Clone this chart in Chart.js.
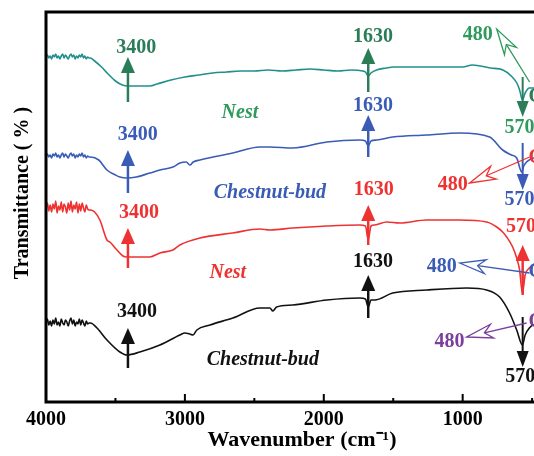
<!DOCTYPE html>
<html><head><meta charset="utf-8">
<script src="https://cdn.jsdelivr.net/npm/chart.js@4"></script>
<style>
html,body{margin:0;padding:0;background:#fff;overflow:hidden;width:534px;height:456px}
#wrap{width:580px;height:456px;position:relative}
</style></head>
<body><div id="wrap"><canvas id="c"></canvas></div>
<script>
// ---- Data (wavenumber in cm^-1, transmittance in offset arbitrary units) ----
const noiseWn = [4000,3990,3980,3970,3960,3950,3940,3930,3920,3910,3900,3890,3880,3870,3860,3850,
  3840,3830,3820,3810,3800,3790,3780,3770,3760,3750,3740,3730,3720,3710,3700,3690];

const nestTopWn = noiseWn.concat([3680,
  3650,3600,3560,3500,3450,3410,3300,3250,3200,3100,3000,2900,2800,2700,2600,2500,2400,2300,2200,2100,
  2000,1900,1800,1720,1700,1680,1660,1620,1550,1500,1400,1200,1000,930,800,710,650,610,590,570,550,520,490,450,400]);
const nestTopT = [345,347,344,346,343,347,345,348,344,346,343,346,348,344,347,345,
  343,346,348,345,347,343,346,344,347,345,348,344,346,343,345,344, 344,
  341,335,329,321,317,316,316,316,318,322,325,327,329,330,331,331,332,331,332,333,
  332,331,332,331,330,326,329,332,334,335,335,335,335,337,334,332,326,319,312,302,309,314,314,314,314];

const budTopWn = noiseWn.concat([3680,
  3620,3561,3500,3468,3417,3350,3252,3180,3086,3036,2990,2964,2940,2892,2655,2460,2388,2223,1978,1741,
  1700,1680,1660,1619,1504,1259,1022,806,712,650,611,575,560,540,520,490,450,400]);
const budTopT = [246,248,245,247,244,248,246,249,245,247,244,247,249,245,248,246,
  244,247,249,246,248,244,247,245,248,246,249,245,247,244,246,245, 245,
  242,232,227,225,224,225,229,232,235,239,240,237,240,242,249,255,255,254,260,262,
  261,256,261,262,265,267,269,265,252,247,244,230,236,240,242,244,244,244];

const nestLowWn = noiseWn.concat([3680,
  3650,3612,3561,3540,3489,3446,3417,3252,3180,3086,3036,2892,2655,2460,2388,2223,1978,1741,1700,1680,
  1660,1633,1547,1453,1259,1022,827,755,712,683,640,611,590,570,550,520,490,400]);
const nestLowT = [194,199,191,197,190,198,193,201,189,196,192,200,190,198,195,189,
  199,192,201,190,197,193,200,189,198,191,199,194,190,197,193,192, 192,
  190,182,162,160,152,146,145,145,149,152,157,164,169,173,172,174,176,177,176,162,
  176,177,180,179,182,182,180,175,170,165,155,144,132,109,127,134,137,137];

const budLowWn = noiseWn.concat([3680,
  3633,3561,3468,3417,3324,3180,3036,3000,2964,2942,2914,2820,2655,2460,2388,2367,2340,2223,1978,1741,
  1700,1680,1660,1633,1504,1259,971,827,734,662,611,570,550,520,490,400]);
const budLowT = [79,83,77,81,76,82,78,84,77,80,76,83,79,77,82,80,
  76,81,84,78,82,76,80,78,83,77,82,79,76,81,78,79, 79,
  74,62,50,47,50,57,67,69,68,67,72,77,84,94,94,91,95,97,102,104,
  103,95,102,102,109,112,114,112,105,89,72,57,67,74,77,77];

const xTickValues = [4000,3000,2000,1000];

// ---- Styles ----
const TEAL='#21908c', GREEN='#2b7d58', LGREEN='#2f9a5c', BLUE='#3a5cb6', RED='#ee3232', BLACK='#111111', PURPLE='#7a3f9c';
const SERIF="'Liberation Serif','Times New Roman',serif";

function pts(w,t){return w.map((v,i)=>({x:v,y:t[i]}));}

// ---- Annotations (data coordinates) ----
const upArrows = [
  {x:3410,tip:345,tail:300,c:GREEN},{x:3410,tip:252,tail:209,c:BLUE},{x:3410,tip:174,tail:134,c:RED},{x:3410,tip:74,tail:34,c:BLACK},
  {x:1680,tip:354,tail:310,c:GREEN},{x:1680,tip:287,tail:245,c:BLUE},{x:1680,tip:197,tail:157,c:RED},{x:1680,tip:127,tail:84,c:BLACK},
  {x:568,tip:157,tail:107,c:RED}
];
const downArrows = [
  {x:568,tip:285,tail:325,c:GREEN},{x:568,tip:212,tail:259,c:BLUE},{x:568,tip:35,tail:85,c:BLACK}
];
const openArrows = [
  {fx:518,fy:320,tx:755,ty:373,c:LGREEN},
  {fx:518,fy:245,tx:950,ty:219,c:RED},
  {fx:518,fy:129,tx:1022,ty:139,c:BLUE},
  {fx:540,fy:79,tx:971,ty:65,c:PURPLE}
];
const labels = [
  {t:'3400',x:3350,y:354,c:GREEN},{t:'3400',x:3340,y:267,c:BLUE},{t:'3400',x:3330,y:189,c:RED},{t:'3400',x:3345,y:90,c:BLACK},
  {t:'1630',x:1645,y:365,c:GREEN},{t:'1630',x:1645,y:296,c:BLUE},{t:'1630',x:1640,y:212,c:RED},{t:'1630',x:1645,y:140,c:BLACK},
  {t:'480',x:892,y:367,c:LGREEN},{t:'480',x:1072,y:217,c:RED},{t:'480',x:1151,y:135,c:BLUE},{t:'480',x:1094,y:60,c:PURPLE},
  {t:'570',x:590,y:274,c:LGREEN},{t:'570',x:590,y:202,c:BLUE},{t:'570',x:580,y:175,c:RED},{t:'570',x:585,y:25,c:BLACK},
  {t:'O',x:470,y:305,c:GREEN},{t:'O',x:470,y:244,c:RED},{t:'O',x:470,y:130,c:BLUE},{t:'O',x:470,y:80,c:PURPLE},
  {t:'Nest',x:2604,y:289,c:LGREEN,it:true},{t:'Chestnut-bud',x:2388,y:209,c:BLUE,it:true},
  {t:'Nest',x:2691,y:129,c:RED,it:true},{t:'Chestnut-bud',x:2439,y:42,c:BLACK,it:true}
];

const deco = {
  id:'deco',
  afterDatasetsDraw(chart){
    const {ctx, chartArea:a, scales:{x,y}} = chart;
    ctx.save();
    ctx.strokeStyle='#000'; ctx.lineWidth=3;
    ctx.beginPath();
    ctx.moveTo(a.left,a.bottom); ctx.lineTo(a.left,a.top); ctx.lineTo(a.right,a.top); ctx.lineTo(a.right,a.bottom); ctx.closePath();
    ctx.stroke();
    ctx.lineWidth=2;
    for(let v=4000; v>=500; v-=500){
      const px=x.getPixelForValue(v); const len=(v%1000===0)?8:4;
      ctx.beginPath(); ctx.moveTo(px,a.bottom); ctx.lineTo(px,a.bottom-len); ctx.stroke();
    }
    upArrows.forEach(o=>{
      const px=x.getPixelForValue(o.x), pt=y.getPixelForValue(o.tip), pl=y.getPixelForValue(o.tail);
      ctx.strokeStyle=o.c; ctx.fillStyle=o.c; ctx.lineWidth=2.5;
      ctx.beginPath(); ctx.moveTo(px,pl); ctx.lineTo(px,pt+14); ctx.stroke();
      ctx.beginPath(); ctx.moveTo(px,pt); ctx.lineTo(px-7,pt+16); ctx.lineTo(px+7,pt+16); ctx.closePath(); ctx.fill();
    });
    downArrows.forEach(o=>{
      const px=x.getPixelForValue(o.x), pt=y.getPixelForValue(o.tip), pl=y.getPixelForValue(o.tail);
      ctx.strokeStyle=o.c; ctx.fillStyle=o.c; ctx.lineWidth=2;
      ctx.beginPath(); ctx.moveTo(px,pl); ctx.lineTo(px,pt-12); ctx.stroke();
      ctx.beginPath(); ctx.moveTo(px,pt); ctx.lineTo(px-6,pt-16); ctx.lineTo(px+6,pt-16); ctx.closePath(); ctx.fill();
    });
    openArrows.forEach(o=>{
      const fx=x.getPixelForValue(o.fx), fy=y.getPixelForValue(o.fy), tx=x.getPixelForValue(o.tx), ty=y.getPixelForValue(o.ty);
      const ang=Math.atan2(fy-ty,fx-tx), ux=Math.cos(ang), uy=Math.sin(ang), nx=-uy, ny=ux;
      const L=26, W=7;
      ctx.strokeStyle=o.c; ctx.lineWidth=1.3;
      ctx.beginPath(); ctx.moveTo(fx,fy); ctx.lineTo(tx+ux*L*0.7,ty+uy*L*0.7); ctx.stroke();
      ctx.fillStyle='#fff';
      ctx.beginPath(); ctx.moveTo(tx,ty);
      ctx.lineTo(tx+ux*L+nx*W,ty+uy*L+ny*W);
      ctx.lineTo(tx+ux*L*0.7,ty+uy*L*0.7);
      ctx.lineTo(tx+ux*L-nx*W,ty+uy*L-ny*W);
      ctx.closePath(); ctx.fill(); ctx.stroke();
    });
    ctx.textAlign='center'; ctx.textBaseline='middle';
    labels.forEach(o=>{
      ctx.fillStyle=o.c;
      ctx.font=(o.it?'italic bold 20px ':'bold 20px ')+SERIF;
      ctx.fillText(o.t,x.getPixelForValue(o.x),y.getPixelForValue(o.y));
    });
    ctx.fillStyle='#000';
    ctx.font='bold 22px '+SERIF;
    ctx.fillText('Wavenumber (cm\u207B\u00B9)',302,440);
    ctx.save(); ctx.translate(23,193); ctx.rotate(-Math.PI/2);
    ctx.font='bold 20px '+SERIF;
    ctx.fillText('Transmittance ( % )',0,0);
    ctx.restore();
    ctx.restore();
  }
};

new Chart(document.getElementById('c'),{
  type:'line',
  data:{datasets:[
    {label:'Nest',data:pts(nestTopWn,nestTopT),borderColor:TEAL},
    {label:'Chestnut-bud',data:pts(budTopWn,budTopT),borderColor:BLUE},
    {label:'Nest',data:pts(nestLowWn,nestLowT),borderColor:RED},
    {label:'Chestnut-bud',data:pts(budLowWn,budLowT),borderColor:BLACK}
  ].map(d=>Object.assign(d,{borderWidth:1.6,pointRadius:0,cubicInterpolationMode:'monotone',fill:false}))},
  options:{
    responsive:true,maintainAspectRatio:false,animation:false,
    layout:{padding:{left:46,top:12,right:34,bottom:0}},
    plugins:{legend:{display:false},tooltip:{enabled:false}},
    scales:{
      x:{type:'linear',reverse:true,min:400,max:4000,
        border:{display:false},grid:{display:false,drawTicks:false},
        afterBuildTicks:s=>{s.ticks=xTickValues.map(v=>({value:v}));},
        ticks:{padding:6,autoSkip:false,maxRotation:0,color:'#000',font:{family:SERIF,size:20,weight:'bold'},callback:v=>String(v)},
        afterFit:s=>{s.height=54;}
      },
      y:{display:false,min:0,max:390}
    }
  },
  plugins:[deco]
});
</script></body></html>
